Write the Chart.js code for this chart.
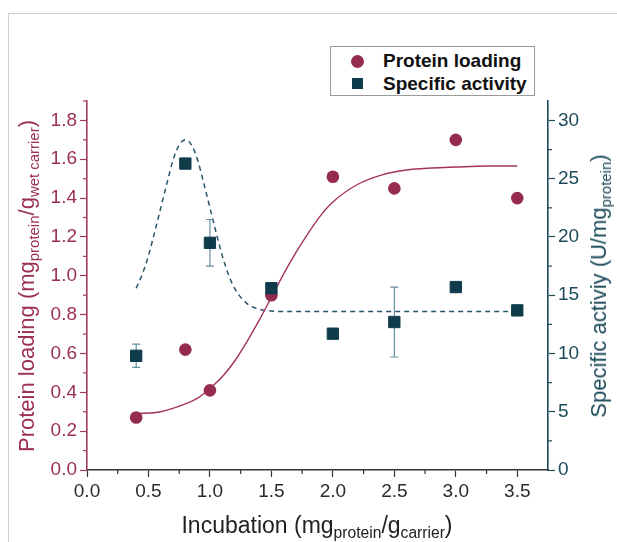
<!DOCTYPE html>
<html>
<head>
<meta charset="utf-8">
<script src="https://cdn.jsdelivr.net/npm/chart.js@4.4.1/dist/chart.umd.min.js"></script>
<style>
  html, body { margin:0; padding:0; background:#fff; }
  #wrap { position:relative; width:617px; height:542px; overflow:hidden; font-family:"Liberation Sans", Arial, sans-serif; }
  #c { position:absolute; left:0; top:0; }
  .frame { position:absolute; left:8px; top:13px; right:-2px; bottom:-2px; border-top:1px solid #cfcfcf; border-left:1px solid #cfcfcf; }
  .title { position:absolute; white-space:nowrap; font-size:22px; line-height:26px; transform:translate(-50%,-50%); }
  .rot { transform:translate(-50%,-50%) rotate(-90deg); }
  .sb { font-size:0.68em; position:relative; top:0.33em; }
  #legend { position:absolute; left:330px; top:46px; width:203px; height:48px; border:1px solid #9a9a9a; background:#fff; }
  .li { position:absolute; left:52px; font-weight:bold; font-size:19px; line-height:22px; color:#111; white-space:nowrap; }
  .mk { position:absolute; }
</style>
</head>
<body>
<div id="wrap">
  <div class="frame"></div>
  <canvas id="c" width="617" height="542"></canvas>
  <div class="title rot" style="left:28px; top:286px; color:#9b2f58;">Protein loading (mg<span class="sb">protein</span>/g<span class="sb">wet carrier</span>)</div>
  <div class="title rot" style="left:600px; top:286px; color:#1d4a5b;">Specific activiy (U/mg<span class="sb">protein</span>)</div>
  <div class="title" style="left:317px; top:526px; color:#222; font-size:23px;">Incubation (mg<span class="sb">protein</span>/g<span class="sb">carrier</span>)</div>
  <div id="legend">
    <div class="mk" style="left:20px; top:8px; width:13px; height:13px; border-radius:50%; background:#962b52;"></div>
    <div class="li" style="top:3px;">Protein loading</div>
    <div class="mk" style="left:21px; top:31px; width:11px; height:11px; background:#0f3b4b;"></div>
    <div class="li" style="top:26px;">Specific activity</div>
  </div>
</div>
<script>
// ---- data ----
const incubation = [0.4, 0.8, 1.0, 1.5, 2.0, 2.5, 3.0, 3.5];
const proteinLoading = [0.27, 0.62, 0.41, 0.90, 1.51, 1.45, 1.70, 1.40];
const specificActivity = [9.8, 26.3, 19.5, 15.6, 11.7, 12.7, 15.7, 13.7];
const specificActivityErr = [1.0, 0, 2.0, 0, 0, 3.0, 0, 0];

// fitted curves
const fitLoadingX = [0.4,0.6,0.8,0.9,1.0,1.1,1.2,1.3,1.4,1.5,1.6,1.7,1.8,1.9,2.0,2.2,2.4,2.6,2.8,3.0,3.25,3.5];
const fitLoadingY = [0.29,0.30,0.34,0.37,0.42,0.48,0.56,0.66,0.77,0.89,1.01,1.12,1.22,1.31,1.38,1.47,1.52,1.545,1.555,1.56,1.565,1.565];
const fitActivityX = [0.4,0.45,0.5,0.55,0.6,0.65,0.7,0.75,0.8,0.85,0.9,0.95,1.0,1.05,1.1,1.15,1.2,1.3,1.4,1.5,1.6,2.0,2.5,3.0,3.5];
const fitActivityY = [15.6,16.8,18.4,20.4,22.5,24.6,26.6,27.9,28.35,27.9,26.6,24.6,22.5,20.4,18.4,16.8,15.6,14.3,13.8,13.65,13.6,13.6,13.6,13.6,13.6];

// axis ticks
const xTicksMajor = [0, 0.5, 1.0, 1.5, 2.0, 2.5, 3.0, 3.5];
const leftTicksMajor = [0, 0.2, 0.4, 0.6, 0.8, 1.0, 1.2, 1.4, 1.6, 1.8];
const rightTicksMajor = [0, 5, 10, 15, 20, 25, 30];

const C_LOAD = '#962b52', C_LOAD_AX = '#a13a63', C_LOAD_TXT = '#9b2f58';
const C_ACT = '#0f3b4b', C_ACT_AX = '#1d4a5b', C_ERR = '#6390a2', C_DASH = '#2a5468';
const FONT = '"Liberation Sans", Arial, sans-serif';

const zip = (xs, ys) => xs.map((x, i) => ({x, y: ys[i]}));

const errorBars = {
  id: 'errorBars',
  beforeDatasetDraw(chart, args) {
    if (args.index !== 0) return;
    const ctx = chart.ctx, xs = chart.scales.x, ys = chart.scales.y2;
    ctx.save();
    ctx.strokeStyle = C_ERR; ctx.lineWidth = 1.2;
    incubation.forEach((x, i) => {
      const e = specificActivityErr[i];
      if (!e) return;
      const px = xs.getPixelForValue(x);
      const y1 = ys.getPixelForValue(specificActivity[i] + e);
      const y2 = ys.getPixelForValue(specificActivity[i] - e);
      ctx.beginPath();
      ctx.moveTo(px, y1); ctx.lineTo(px, y2);
      ctx.moveTo(px - 4, y1); ctx.lineTo(px + 4, y1);
      ctx.moveTo(px - 4, y2); ctx.lineTo(px + 4, y2);
      ctx.stroke();
    });
    ctx.restore();
  }
};

const minorTicks = {
  id: 'minorTicks',
  afterDraw(chart) {
    const ctx = chart.ctx, a = chart.chartArea;
    ctx.save(); ctx.lineWidth = 1.2;
    const xs = chart.scales.x;
    ctx.strokeStyle = '#333';
    for (let v = 0.25; v < 3.75; v += 0.5) {
      const p = xs.getPixelForValue(v);
      ctx.beginPath(); ctx.moveTo(p, a.bottom); ctx.lineTo(p, a.bottom + 4); ctx.stroke();
    }
    const yl = chart.scales.y;
    ctx.strokeStyle = C_LOAD_AX;
    for (let v = 0.1; v < 1.95; v += 0.2) {
      const p = yl.getPixelForValue(v);
      ctx.beginPath(); ctx.moveTo(a.left, p); ctx.lineTo(a.left - 4, p); ctx.stroke();
    }
    const yr = chart.scales.y2;
    ctx.strokeStyle = C_ACT_AX;
    for (let v = 2.5; v < 32; v += 5) {
      const p = yr.getPixelForValue(v);
      ctx.beginPath(); ctx.moveTo(a.right, p); ctx.lineTo(a.right + 4, p); ctx.stroke();
    }
    ctx.restore();
  }
};

new Chart(document.getElementById('c'), {
  type: 'scatter',
  data: {
    datasets: [
      { label: 'Specific activity', data: zip(incubation, specificActivity), yAxisID: 'y2',
        pointStyle: 'rect', pointRadius: 8, pointHoverRadius: 8, backgroundColor: C_ACT, borderColor: C_ACT, borderWidth: 1, order: 0 },
      { label: 'Protein loading', data: zip(incubation, proteinLoading), yAxisID: 'y',
        pointStyle: 'circle', pointRadius: 6.3, pointHoverRadius: 6.3, backgroundColor: C_LOAD, borderColor: C_LOAD, borderWidth: 0, order: 1 },
      { label: 'Loading fit', type: 'line', data: zip(fitLoadingX, fitLoadingY), yAxisID: 'y',
        borderColor: '#a3335c', borderWidth: 1.4, pointRadius: 0, fill: false, cubicInterpolationMode: 'monotone', order: 2 },
      { label: 'Activity fit', type: 'line', data: zip(fitActivityX, fitActivityY), yAxisID: 'y2',
        borderColor: C_DASH, borderWidth: 1.5, borderDash: [5, 4], pointRadius: 0, fill: false, cubicInterpolationMode: 'monotone', order: 3 }
    ]
  },
  options: {
    responsive: false, animation: false, events: [],
    layout: { padding: { top: 101, left: 0, right: 0, bottom: 0 } },
    plugins: { legend: { display: false }, tooltip: { enabled: false } },
    scales: {
      x: {
        type: 'linear', min: 0, max: 3.75,
        afterFit(s) { s.height = 72; },
        afterBuildTicks(s) { s.ticks = xTicksMajor.map(v => ({value: v})); },
        ticks: { color: '#2b2b2b', font: { family: FONT, size: 19 }, padding: 3,
                 callback: v => v.toFixed(1) },
        grid: { drawOnChartArea: false, tickLength: 7, color: '#333', tickWidth: 1.2 },
        border: { color: '#333', width: 1.6 }
      },
      y: {
        type: 'linear', position: 'left', min: 0, max: 1.9,
        afterFit(s) { s.width = 87; },
        afterBuildTicks(s) { s.ticks = leftTicksMajor.map(v => ({value: v})); },
        ticks: { color: C_LOAD_TXT, font: { family: FONT, size: 19 }, padding: 3,
                 callback: v => v.toFixed(1) },
        grid: { drawOnChartArea: false, tickLength: 7, color: C_LOAD_AX, tickWidth: 1.2 },
        border: { color: C_LOAD_AX, width: 1.6 }
      },
      y2: {
        type: 'linear', position: 'right', min: 0, max: 31.67,
        afterFit(s) { s.width = 69; },
        afterBuildTicks(s) { s.ticks = rightTicksMajor.map(v => ({value: v})); },
        ticks: { color: C_ACT_AX, font: { family: FONT, size: 19 }, padding: 3,
                 callback: v => String(v) },
        grid: { drawOnChartArea: false, tickLength: 7, color: C_ACT_AX, tickWidth: 1.2 },
        border: { color: C_ACT_AX, width: 1.6 }
      }
    }
  },
  plugins: [errorBars, minorTicks]
});
</script>
</body>
</html>
